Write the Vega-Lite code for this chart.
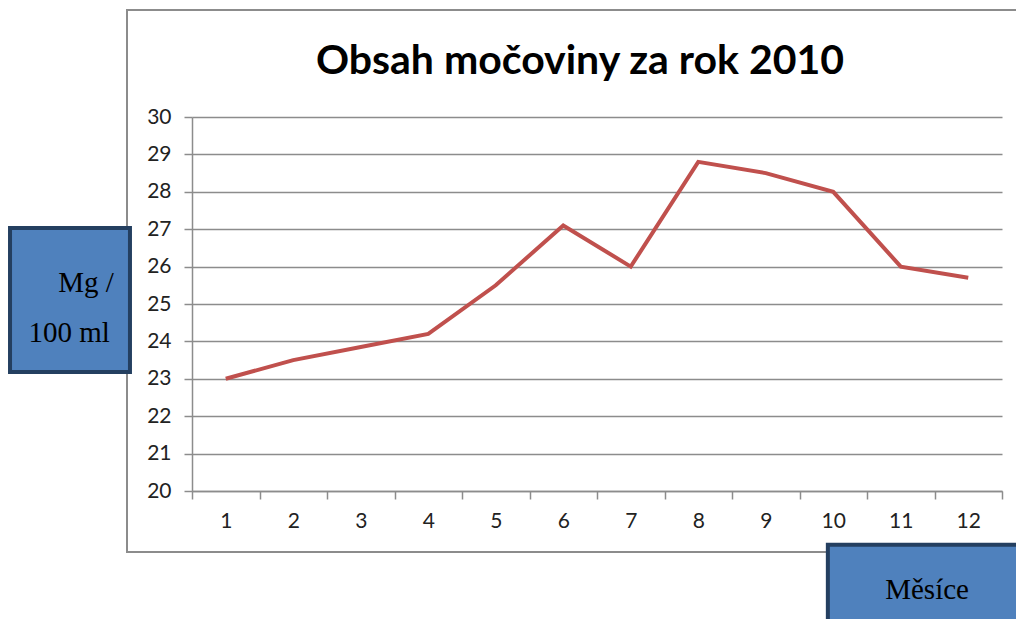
{
  "$schema": "https://vega.github.io/schema/vega-lite/v6.json",
  "width": 810,
  "height": 374,
  "autosize": {"type": "none"},
  "padding": {"left": 192, "top": 117, "right": 14, "bottom": 128},
  "background": "white",
  "config": {"view": {"stroke": null}},
  "datasets": {
    "urea": [
      {"mesic": "1", "hodnota": 23.0},
      {"mesic": "2", "hodnota": 23.5},
      {"mesic": "3", "hodnota": 23.85},
      {"mesic": "4", "hodnota": 24.2},
      {"mesic": "5", "hodnota": 25.5},
      {"mesic": "6", "hodnota": 27.1},
      {"mesic": "7", "hodnota": 26.0},
      {"mesic": "8", "hodnota": 28.8},
      {"mesic": "9", "hodnota": 28.5},
      {"mesic": "10", "hodnota": 28.0},
      {"mesic": "11", "hodnota": 26.0},
      {"mesic": "12", "hodnota": 25.7}
    ],
    "frame": [
      {"x1": -0.463, "x2": 12.9, "y1": 32.86, "y2": 18.37}
    ],
    "boxes": [
      {"x1": -2.196, "x2": -0.419, "y1": 27.03, "y2": 23.18},
      {"x1": 9.92, "x2": 13.2, "y1": 18.56, "y2": 16.2}
    ],
    "labels": [
      {"t": "Mg /", "bx": -1.07, "by": 25.56},
      {"t": "100 ml", "bx": -1.32, "by": 24.22},
      {"t": "Měsíce", "bx": 11.39, "by": 17.35}
    ],
    "titles": [
      {"t": "Obsah močoviny za rok 2010", "bx": 6.248, "by": 31.47}
    ]
  },
  "layer": [
    {
      "data": {"name": "frame"},
      "mark": {"type": "rect", "fill": null, "stroke": "#8c8c8c", "strokeWidth": 2, "clip": false},
      "encoding": {
        "x": {"field": "x1", "type": "quantitative", "scale": {"domain": [0.5, 12.5], "nice": false, "zero": false}, "axis": null},
        "x2": {"field": "x2"},
        "y": {"field": "y1", "type": "quantitative", "scale": {"domain": [20, 30], "nice": false, "zero": false}, "axis": null},
        "y2": {"field": "y2"}
      }
    },
    {
      "data": {"name": "urea"},
      "mark": {"type": "line", "color": "#C0504D", "strokeWidth": 4},
      "encoding": {
        "x": {
          "field": "mesic",
          "type": "ordinal",
          "sort": null,
          "scale": {"paddingInner": 0, "paddingOuter": 0},
          "axis": {
            "title": null,
            "labelAngle": 0,
            "labelFont": "Lato",
            "labelFontSize": 21,
            "labelColor": "#222222",
            "labelPadding": 11,
            "tickBand": "extent",
            "tickSize": 8,
            "tickColor": "#8c8c8c",
            "tickWidth": 1.5,
            "domainColor": "#8c8c8c",
            "domainWidth": 1.5,
            "grid": false
          }
        },
        "y": {
          "field": "hodnota",
          "type": "quantitative",
          "scale": {"domain": [20, 30], "nice": false, "zero": false},
          "axis": {
            "title": null,
            "values": [20, 21, 22, 23, 24, 25, 26, 27, 28, 29, 30],
            "labelFont": "Lato",
            "labelFontSize": 21,
            "labelColor": "#222222",
            "labelPadding": 13,
            "tickSize": 8,
            "tickColor": "#8c8c8c",
            "tickWidth": 1.5,
            "domainColor": "#8c8c8c",
            "domainWidth": 1.5,
            "grid": true,
            "gridColor": "#8c8c8c",
            "gridWidth": 1.5
          }
        }
      }
    },
    {
      "data": {"name": "boxes"},
      "mark": {"type": "rect", "fill": "#4F81BD", "stroke": "#243F60", "strokeWidth": 4, "clip": false},
      "encoding": {
        "x": {"field": "x1", "type": "quantitative", "scale": {"domain": [0.5, 12.5], "nice": false, "zero": false}, "axis": null},
        "x2": {"field": "x2"},
        "y": {"field": "y1", "type": "quantitative", "scale": {"domain": [20, 30], "nice": false, "zero": false}, "axis": null},
        "y2": {"field": "y2"}
      }
    },
    {
      "data": {"name": "labels"},
      "mark": {"type": "text", "font": "Liberation Serif", "fontSize": 29, "color": "#000000", "align": "center", "baseline": "middle", "clip": false},
      "encoding": {
        "x": {"field": "bx", "type": "quantitative", "scale": {"domain": [0.5, 12.5], "nice": false, "zero": false}, "axis": null},
        "y": {"field": "by", "type": "quantitative", "scale": {"domain": [20, 30], "nice": false, "zero": false}, "axis": null},
        "text": {"field": "t"}
      }
    },
    {
      "data": {"name": "titles"},
      "mark": {"type": "text", "font": "Lato", "fontSize": 41, "fontWeight": "bold", "color": "#000000", "align": "center", "baseline": "middle", "clip": false},
      "encoding": {
        "x": {"field": "bx", "type": "quantitative", "scale": {"domain": [0.5, 12.5], "nice": false, "zero": false}, "axis": null},
        "y": {"field": "by", "type": "quantitative", "scale": {"domain": [20, 30], "nice": false, "zero": false}, "axis": null},
        "text": {"field": "t"}
      }
    }
  ],
  "resolve": {"scale": {"x": "independent", "y": "independent"}}
}
